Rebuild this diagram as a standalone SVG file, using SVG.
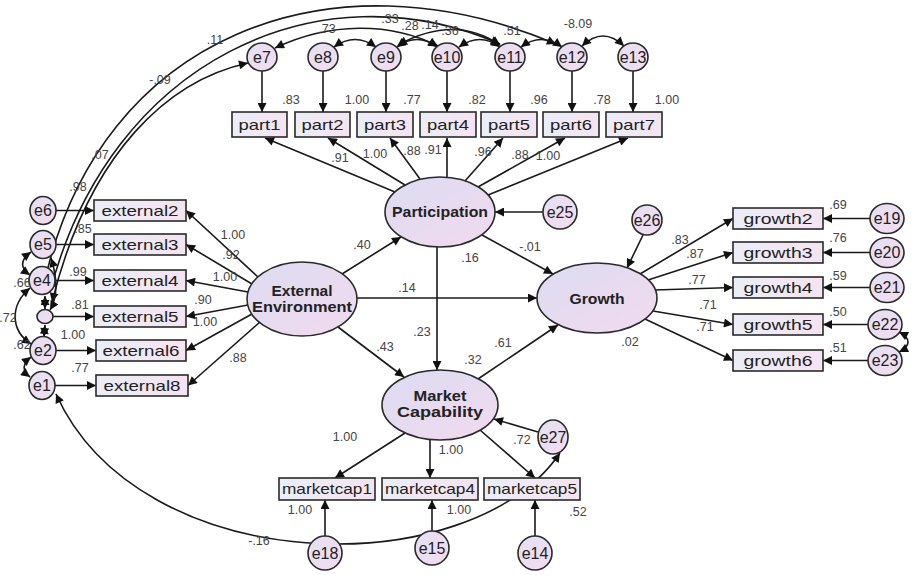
<svg xmlns="http://www.w3.org/2000/svg" width="919" height="575" viewBox="0 0 919 575">
<style>
text{font-family:"Liberation Sans",Arial,sans-serif;text-anchor:middle}
.lat{stroke:#2a2a2a;stroke-width:1.6;fill:url(#gl)}
.err{stroke:#2a2a2a;stroke-width:1.6;fill:url(#ge)}
.box{stroke:#2a2a2a;stroke-width:1.6;fill:url(#gb)}
.el{font-size:16px;fill:#222}
.bl{font-size:15px;fill:#222}
.ll{font-size:14px;font-weight:bold;fill:#222}
.n{font-size:12.5px;fill:#444}
.c path{fill:none;stroke:#1a1a1a;stroke-width:1.6}
.c .a{marker-end:url(#ah)}
.c .b{marker-start:url(#ah);marker-end:url(#ah)}
</style>
<defs>
<marker id="ah" viewBox="0 0 10 10" refX="10" refY="5" markerWidth="13" markerHeight="9" markerUnits="userSpaceOnUse" orient="auto-start-reverse"><path d="M0,0 L10,5 L0,10 z" fill="#111"/></marker>
<linearGradient id="gl" x1="0" y1="0" x2="1" y2="1"><stop offset="0" stop-color="#dcdcf2"/><stop offset="1" stop-color="#f2daee"/></linearGradient>
<linearGradient id="ge" x1="0" y1="0" x2="1" y2="1"><stop offset="0" stop-color="#e4e0f2"/><stop offset="1" stop-color="#f3dcef"/></linearGradient>
<linearGradient id="gb" x1="0" y1="0" x2="1" y2="0"><stop offset="0" stop-color="#eaeef7"/><stop offset="1" stop-color="#f5e3f1"/></linearGradient>
</defs>
<rect width="919" height="575" fill="#fff"/>

<g id="connectors" class="c">
<!-- big covariance arcs -->
<path class="b" d="M45,280 C100,36 330,-52 556,44"/>
<path class="b" d="M50,292 C110,60 320,-35 500,44"/>
<path class="b" d="M52,302 C90,150 170,80 248,63"/>
<path class="b" d="M56,394 C140,580 470,585 560,453"/>
<!-- top covariances -->
<path class="b" d="M275,48 C330,22 390,22 438,46"/>
<path class="b" d="M334,47 Q355,32 376,47"/>
<path class="b" d="M397,47 Q417,32 437,47"/>
<path class="b" d="M398,45 Q455,14 500,45"/>
<path class="b" d="M459,47 Q480,32 500,47"/>
<path class="b" d="M521,47 Q541,32 562,47"/>
<path class="b" d="M582,46 Q603,26 624,46"/>
<!-- left cluster covariances -->
<path class="b" d="M31,252 C20,260 20,268 30,275"/>
<path class="b" d="M30,288 C10,305 10,330 31,344"/>
<path class="b" d="M31,357 C22,364 22,371 30,377"/>
<path class="b" d="M45,296 L45,309"/>
<path class="b" d="M45,325 L44,337"/>
<path class="b" d="M51,258 C58,280 57,298 50,310"/>
<!-- e22-e23 -->
<path class="b" d="M899,332 C911,338 911,346 899,352"/>
<!-- errors to parts -->
<path class="a" d="M262,71 L262,112"/>
<path class="a" d="M323,71 L323,112"/>
<path class="a" d="M386,71 L386,112"/>
<path class="a" d="M447,71 L447,112"/>
<path class="a" d="M510,71 L510,112"/>
<path class="a" d="M572,71 L572,112"/>
<path class="a" d="M633,71 L633,112"/>
<!-- participation to parts -->
<path class="a" d="M395,192 L265,138"/>
<path class="a" d="M405,185 L328,138"/>
<path class="a" d="M420,179 L390,138"/>
<path class="a" d="M447,177 L447,138"/>
<path class="a" d="M465,181 L503,138"/>
<path class="a" d="M478,187 L565,138"/>
<path class="a" d="M488,195 L628,138"/>
<!-- left errors to external -->
<path class="a" d="M56,210.5 L94,210.5"/>
<path class="a" d="M56,244.5 L94,244.5"/>
<path class="a" d="M55,280.5 L94,280.5"/>
<path class="a" d="M53,316.5 L94,316.5"/>
<path class="a" d="M56,350.5 L96,350.5"/>
<path class="a" d="M55,385.5 L96,385.5"/>
<!-- external env to boxes -->
<path class="a" d="M258,277 L186,210.5"/>
<path class="a" d="M252,284 L186,244.5"/>
<path class="a" d="M248,292 L186,280.5"/>
<path class="a" d="M248,305 L186,316.5"/>
<path class="a" d="M252,314 L186,350.5"/>
<path class="a" d="M260,322 L188,385.5"/>
<!-- structural -->
<path class="a" d="M342,274 L401,237"/>
<path class="a" d="M357,298 L537,298"/>
<path class="a" d="M338,327 L404,377"/>
<path class="a" d="M482,235 L553,274"/>
<path class="a" d="M437,247 L437,370"/>
<path class="a" d="M478,379 L558,325"/>
<path class="a" d="M543,212 L495,212"/>
<path class="a" d="M643,235 L627,268"/>
<path class="a" d="M538,432 L494,419"/>
<!-- growth to boxes -->
<path class="a" d="M640,274 L733,218.5"/>
<path class="a" d="M648,280 L733,252.5"/>
<path class="a" d="M655,290 L733,287.5"/>
<path class="a" d="M653,311 L733,324.5"/>
<path class="a" d="M645,319 L733,360.5"/>
<path class="a" d="M870,218.5 L823,218.5"/>
<path class="a" d="M870,252.5 L823,252.5"/>
<path class="a" d="M870,287.5 L823,287.5"/>
<path class="a" d="M868,324.5 L823,324.5"/>
<path class="a" d="M868,360.5 L823,360.5"/>
<!-- market -->
<path class="a" d="M405,433 L335,478"/>
<path class="a" d="M430,440 L430,478"/>
<path class="a" d="M480,430 L535,478"/>
<path class="a" d="M325,536 L325,500"/>
<path class="a" d="M432,531 L432,500"/>
<path class="a" d="M535,536 L535,500"/>
</g>

<g id="e7"><ellipse class="err" cx="262" cy="57" rx="15" ry="14"/><text class="el" x="262" y="63">e7</text></g>
<g id="e8"><ellipse class="err" cx="323" cy="57" rx="15" ry="14"/><text class="el" x="323" y="63">e8</text></g>
<g id="e9"><ellipse class="err" cx="386" cy="57" rx="15" ry="14"/><text class="el" x="386" y="63">e9</text></g>
<g id="e10"><ellipse class="err" cx="447" cy="57" rx="15" ry="14"/><text class="el" x="447" y="63">e10</text></g>
<g id="e11"><ellipse class="err" cx="510" cy="57" rx="15" ry="14"/><text class="el" x="510" y="63">e11</text></g>
<g id="e12"><ellipse class="err" cx="572" cy="57" rx="15" ry="14"/><text class="el" x="572" y="63">e12</text></g>
<g id="e13"><ellipse class="err" cx="633" cy="57" rx="15" ry="14"/><text class="el" x="633" y="63">e13</text></g>

<g id="part1"><rect class="box" x="232" y="112" width="55" height="25"/><text class="bl" x="259.5" y="130" textLength="42" lengthAdjust="spacingAndGlyphs">part1</text></g>
<g id="part2"><rect class="box" x="295" y="112" width="55" height="25"/><text class="bl" x="322.5" y="130" textLength="42" lengthAdjust="spacingAndGlyphs">part2</text></g>
<g id="part3"><rect class="box" x="357" y="112" width="56" height="25"/><text class="bl" x="385" y="130" textLength="42" lengthAdjust="spacingAndGlyphs">part3</text></g>
<g id="part4"><rect class="box" x="420" y="112" width="56" height="25"/><text class="bl" x="448" y="130" textLength="42" lengthAdjust="spacingAndGlyphs">part4</text></g>
<g id="part5"><rect class="box" x="481" y="112" width="56" height="25"/><text class="bl" x="509" y="130" textLength="42" lengthAdjust="spacingAndGlyphs">part5</text></g>
<g id="part6"><rect class="box" x="543" y="112" width="56" height="25"/><text class="bl" x="571" y="130" textLength="42" lengthAdjust="spacingAndGlyphs">part6</text></g>
<g id="part7"><rect class="box" x="606" y="112" width="56" height="25"/><text class="bl" x="634" y="130" textLength="42" lengthAdjust="spacingAndGlyphs">part7</text></g>

<g id="participation"><ellipse class="lat" cx="440" cy="212" rx="55" ry="35"/><text class="ll" x="440" y="217" textLength="96" lengthAdjust="spacingAndGlyphs">Participation</text></g>
<g id="e25"><ellipse class="err" cx="560" cy="212" rx="17" ry="17"/><text class="el" x="560" y="218">e25</text></g>

<g id="external-environment"><ellipse class="lat" cx="302" cy="299" rx="55" ry="37"/><text class="ll" x="302" y="296" textLength="61" lengthAdjust="spacingAndGlyphs">External</text><text class="ll" x="302" y="312" textLength="100" lengthAdjust="spacingAndGlyphs">Environment</text></g>

<g id="external2"><rect class="box" x="94" y="200" width="92" height="21"/><text class="bl" x="140" y="216" textLength="77" lengthAdjust="spacingAndGlyphs">external2</text></g>
<g id="external3"><rect class="box" x="94" y="234" width="92" height="21"/><text class="bl" x="140" y="250" textLength="77" lengthAdjust="spacingAndGlyphs">external3</text></g>
<g id="external4"><rect class="box" x="94" y="270" width="92" height="21"/><text class="bl" x="140" y="286" textLength="77" lengthAdjust="spacingAndGlyphs">external4</text></g>
<g id="external5"><rect class="box" x="94" y="306" width="92" height="21"/><text class="bl" x="140" y="322" textLength="77" lengthAdjust="spacingAndGlyphs">external5</text></g>
<g id="external6"><rect class="box" x="96" y="340" width="90" height="21"/><text class="bl" x="141" y="356" textLength="77" lengthAdjust="spacingAndGlyphs">external6</text></g>
<g id="external8"><rect class="box" x="96" y="375" width="92" height="21"/><text class="bl" x="142" y="391" textLength="77" lengthAdjust="spacingAndGlyphs">external8</text></g>

<g id="e6"><ellipse class="err" cx="43" cy="210.5" rx="13" ry="14"/><text class="el" x="43" y="216">e6</text></g>
<g id="e5"><ellipse class="err" cx="43" cy="244.5" rx="13" ry="14"/><text class="el" x="43" y="250">e5</text></g>
<g id="e4"><ellipse class="err" cx="42" cy="280.5" rx="13" ry="14"/><text class="el" x="42" y="286">e4</text></g>
<g id="e3"><ellipse class="err" cx="45" cy="316.5" rx="8" ry="7"/></g>
<g id="e2"><ellipse class="err" cx="43" cy="350.5" rx="13" ry="14"/><text class="el" x="43" y="356">e2</text></g>
<g id="e1"><ellipse class="err" cx="42" cy="385.5" rx="13" ry="14"/><text class="el" x="42" y="391">e1</text></g>

<g id="growth"><ellipse class="lat" cx="597" cy="298" rx="60" ry="35"/><text class="ll" x="597" y="304" style="font-size:15px" textLength="55" lengthAdjust="spacingAndGlyphs">Growth</text></g>
<g id="e26"><ellipse class="err" cx="647" cy="220" rx="15" ry="15"/><text class="el" x="647" y="226">e26</text></g>

<g id="growth2"><rect class="box" x="733" y="208" width="90" height="21"/><text class="bl" x="778" y="224" textLength="69" lengthAdjust="spacingAndGlyphs">growth2</text></g>
<g id="growth3"><rect class="box" x="733" y="242" width="90" height="21"/><text class="bl" x="778" y="258" textLength="69" lengthAdjust="spacingAndGlyphs">growth3</text></g>
<g id="growth4"><rect class="box" x="733" y="277" width="90" height="21"/><text class="bl" x="778" y="293" textLength="69" lengthAdjust="spacingAndGlyphs">growth4</text></g>
<g id="growth5"><rect class="box" x="733" y="314" width="90" height="21"/><text class="bl" x="778" y="330" textLength="69" lengthAdjust="spacingAndGlyphs">growth5</text></g>
<g id="growth6"><rect class="box" x="733" y="350" width="90" height="21"/><text class="bl" x="778" y="366" textLength="69" lengthAdjust="spacingAndGlyphs">growth6</text></g>

<g id="e19"><ellipse class="err" cx="887" cy="218.5" rx="17" ry="15"/><text class="el" x="887" y="224">e19</text></g>
<g id="e20"><ellipse class="err" cx="887" cy="252.5" rx="17" ry="15"/><text class="el" x="887" y="258">e20</text></g>
<g id="e21"><ellipse class="err" cx="887" cy="287.5" rx="17" ry="15"/><text class="el" x="887" y="293">e21</text></g>
<g id="e22"><ellipse class="err" cx="885" cy="324.5" rx="17" ry="15"/><text class="el" x="885" y="330">e22</text></g>
<g id="e23"><ellipse class="err" cx="885" cy="360.5" rx="17" ry="15"/><text class="el" x="885" y="366">e23</text></g>

<g id="market-capability"><ellipse class="lat" cx="440" cy="405" rx="58" ry="35"/><text class="ll" x="440" y="401" textLength="53" lengthAdjust="spacingAndGlyphs">Market</text><text class="ll" x="440" y="417" textLength="86" lengthAdjust="spacingAndGlyphs">Capability</text></g>
<g id="e27"><ellipse class="err" cx="553" cy="437" rx="15" ry="17"/><text class="el" x="553" y="443">e27</text></g>

<g id="marketcap1"><rect class="box" x="279" y="478" width="96" height="22"/><text class="bl" x="327" y="494" textLength="90" lengthAdjust="spacingAndGlyphs">marketcap1</text></g>
<g id="marketcap4"><rect class="box" x="382" y="478" width="96" height="22"/><text class="bl" x="430" y="494" textLength="90" lengthAdjust="spacingAndGlyphs">marketcap4</text></g>
<g id="marketcap5"><rect class="box" x="484" y="478" width="96" height="22"/><text class="bl" x="532" y="494" textLength="90" lengthAdjust="spacingAndGlyphs">marketcap5</text></g>

<g id="e18"><ellipse class="err" cx="325" cy="553" rx="17" ry="17"/><text class="el" x="325" y="559">e18</text></g>
<g id="e15"><ellipse class="err" cx="432" cy="548" rx="17" ry="17"/><text class="el" x="432" y="554">e15</text></g>
<g id="e14"><ellipse class="err" cx="535" cy="553" rx="17" ry="17"/><text class="el" x="535" y="559">e14</text></g>

<g id="labels" class="n">
<text class="n" x="291" y="104">.83</text>
<text class="n" x="357" y="104">1.00</text>
<text class="n" x="412" y="104">.77</text>
<text class="n" x="477" y="104">.82</text>
<text class="n" x="539" y="104">.96</text>
<text class="n" x="602" y="104">.78</text>
<text class="n" x="667" y="104">1.00</text>
<text class="n" x="340" y="162">.91</text>
<text class="n" x="375" y="158">1.00</text>
<text class="n" x="412" y="155">.88</text>
<text class="n" x="433" y="154">.91</text>
<text class="n" x="483" y="156">.96</text>
<text class="n" x="520" y="159">.88</text>
<text class="n" x="548" y="160">1.00</text>
<text class="n" x="215" y="44">.11</text>
<text class="n" x="160" y="84">-.09</text>
<text class="n" x="327" y="33">.73</text>
<text class="n" x="390" y="23">.33</text>
<text class="n" x="410" y="30">.28</text>
<text class="n" x="430" y="29">.14</text>
<text class="n" x="450" y="35">.36</text>
<text class="n" x="512" y="35">.51</text>
<text class="n" x="578" y="28">-8.09</text>
<text class="n" x="100" y="159">.07</text>
<text class="n" x="78" y="191">.98</text>
<text class="n" x="83" y="233">.85</text>
<text class="n" x="78" y="276">.99</text>
<text class="n" x="80" y="309">.81</text>
<text class="n" x="73" y="339">1.00</text>
<text class="n" x="80" y="372">.77</text>
<text class="n" x="233" y="239">1.00</text>
<text class="n" x="231" y="259">.92</text>
<text class="n" x="225" y="281">1.00</text>
<text class="n" x="203" y="304">.90</text>
<text class="n" x="205" y="326">1.00</text>
<text class="n" x="238" y="362">.88</text>
<text class="n" x="22" y="287">.66</text>
<text class="n" x="8" y="322">.72</text>
<text class="n" x="22" y="349">.62</text>
<text class="n" x="362" y="249">.40</text>
<text class="n" x="407" y="292">.14</text>
<text class="n" x="385" y="351">.43</text>
<text class="n" x="530" y="251">-.01</text>
<text class="n" x="470" y="262">.16</text>
<text class="n" x="422" y="336">.23</text>
<text class="n" x="503" y="347">.61</text>
<text class="n" x="473" y="364">.32</text>
<text class="n" x="630" y="346">.02</text>
<text class="n" x="680" y="244">.83</text>
<text class="n" x="695" y="258">.87</text>
<text class="n" x="697" y="284">.77</text>
<text class="n" x="708" y="309">.71</text>
<text class="n" x="705" y="331">.71</text>
<text class="n" x="838" y="209">.69</text>
<text class="n" x="838" y="242">.76</text>
<text class="n" x="838" y="280">.59</text>
<text class="n" x="838" y="316">.50</text>
<text class="n" x="838" y="352">.51</text>
<text class="n" x="345" y="441">1.00</text>
<text class="n" x="451" y="454">1.00</text>
<text class="n" x="522" y="444">.72</text>
<text class="n" x="300" y="514">1.00</text>
<text class="n" x="459" y="514">1.00</text>
<text class="n" x="578" y="516">.52</text>
<text class="n" x="259" y="545">-.16</text>
</g>
</svg>
